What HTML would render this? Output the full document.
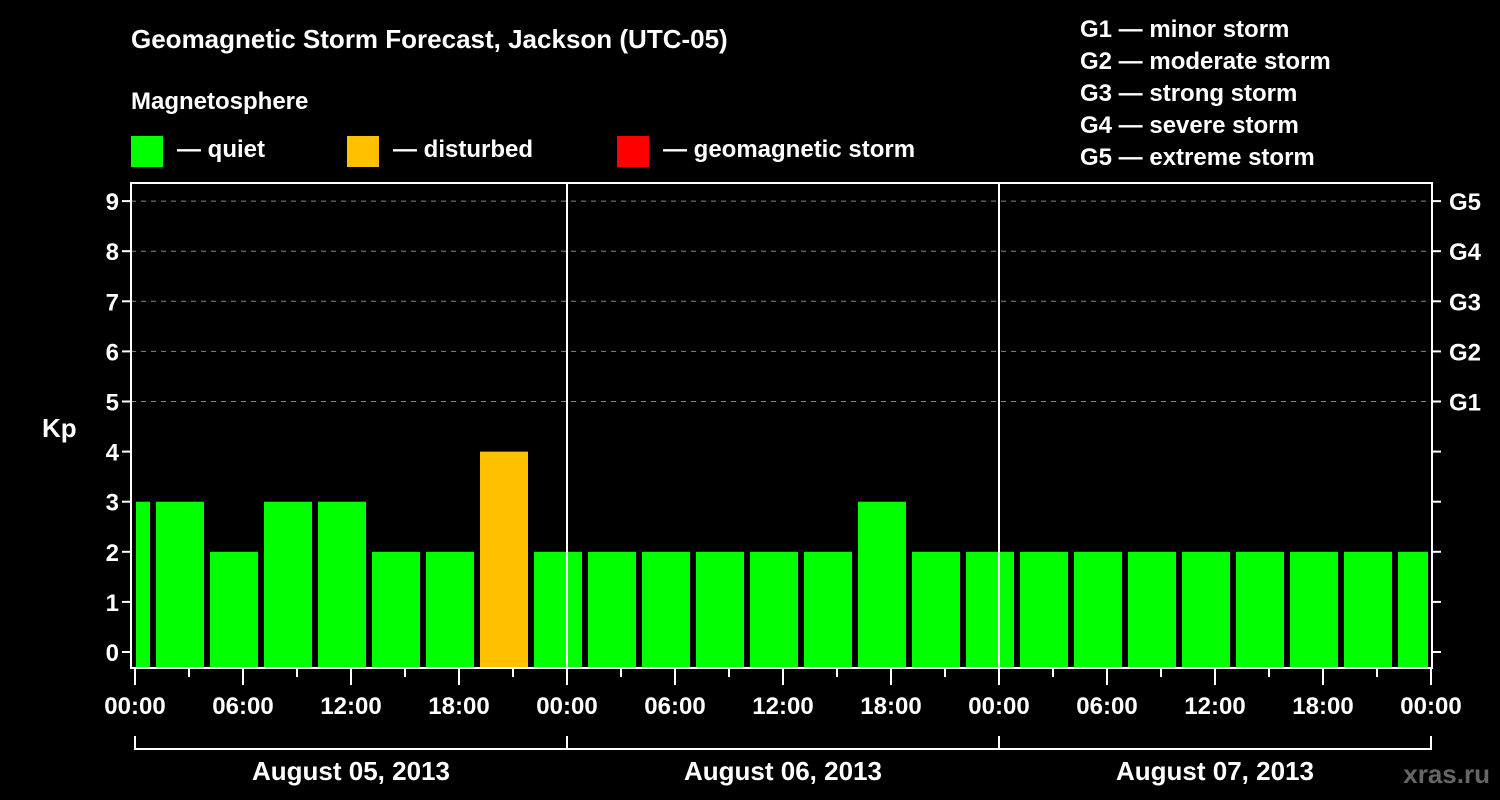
<!DOCTYPE html>
<html><head><meta charset="utf-8"><style>
body{margin:0;background:#000;}
svg{display:block;font-family:"Liberation Sans",Arial,sans-serif;font-weight:bold;}
</style></head><body>
<svg width="1500" height="800" viewBox="0 0 1500 800">
<rect width="1500" height="800" fill="#000"/>
<text x="131" y="48" fill="#fff" font-size="26">Geomagnetic Storm Forecast, Jackson (UTC-05)</text>
<text x="131" y="109" fill="#fff" font-size="24">Magnetosphere</text>
<g><rect x="131" y="136" width="32" height="31" fill="#00ff00"/><text x="177" y="157" fill="#fff" font-size="24">— quiet</text></g>
<g><rect x="347" y="136" width="32" height="31" fill="#ffc000"/><text x="393" y="157" fill="#fff" font-size="24">— disturbed</text></g>
<g><rect x="617" y="136" width="32" height="31" fill="#ff0000"/><text x="663" y="157" fill="#fff" font-size="24">— geomagnetic storm</text></g>
<g fill="#fff" font-size="24">
<text x="1080" y="37">G1 — minor storm</text>
<text x="1080" y="69">G2 — moderate storm</text>
<text x="1080" y="101">G3 — strong storm</text>
<text x="1080" y="133">G4 — severe storm</text>
<text x="1080" y="165">G5 — extreme storm</text>
</g>
<text x="42" y="437" fill="#fff" font-size="26">Kp</text>
<text x="1490" y="783" fill="#666" font-size="26" text-anchor="end">xras.ru</text>
<g id="plot"></g>
</svg>
<script>
const kpValues=[3,3,2,3,3,2,2,4,2,2,2,2,2,2,3,2,2,2,2,2,2,2,2,2,2];
const timeLabels=["00:00","06:00","12:00","18:00","00:00","06:00","12:00","18:00","00:00","06:00","12:00","18:00","00:00"];
const dayLabels=["August 05, 2013","August 06, 2013","August 07, 2013"];
const gLabels=["G1","G2","G3","G4","G5"];
const kpTicks=[0,1,2,3,4,5,6,7,8,9];
const NS="http://www.w3.org/2000/svg";
const g=document.getElementById('plot');
const X0=135,PXH=18,Y0=652,PXK=50.1,L=131,R=1432,T=183,B=668;
const xh=h=>X0+h*PXH, yk=k=>Y0-k*PXK;
function mk(t,a,p){const e=document.createElementNS(NS,t);for(const k in a)e.setAttribute(k,a[k]);(p||g).appendChild(e);return e;}
// grid
kpTicks.forEach(k=>{
 if(k>=5){const l=mk('line',{x1:L,x2:R,y1:yk(k),y2:yk(k),stroke:'#888','stroke-dasharray':'5,5','stroke-width':1});
 
 }
 const t=mk('line',{x1:L-9,x2:L,y1:yk(k),y2:yk(k),stroke:'#fff','stroke-width':2});
 
 
 const t2=mk('line',{x1:R,x2:R+9,y1:yk(k),y2:yk(k),stroke:'#fff','stroke-width':2});
 
 
 const lab=mk('text',{x:L-12,y:yk(k)+9,fill:'#fff','font-size':24,'text-anchor':'end'});
 lab.textContent=k;
 
 
});
gLabels.forEach((s,i)=>{
 const lab=mk('text',{x:R+17,y:yk(i+5)+9,fill:'#fff','font-size':24});
 lab.textContent=s;
 
 
});
// bars
kpValues.forEach((v,i)=>{
 let x1=xh(-2+3*i)+3, x2=x1+48;
 x1=Math.max(x1,X0+1); x2=Math.min(x2,R-4);
 const c=v>=5?'#ff0000':(v>=4?'#ffc000':'#00ff00');
 const r=mk('rect',{x:x1,y:yk(v),width:x2-x1,height:B-yk(v),fill:c});
 
 
});
// day separators
[1,2].forEach(d=>{const l=mk('line',{x1:xh(24*d),x2:xh(24*d),y1:T,y2:B,stroke:'#fff','stroke-width':2});
 
 });
// frame
const f=mk('rect',{x:L,y:T,width:R-L,height:B-T,fill:'none',stroke:'#fff','stroke-width':2});


// x ticks
for(let h=0;h<=72;h+=3){
 const l=mk('line',{x1:xh(h),x2:xh(h),y1:B,y2:B+(h%6==0?17:9),stroke:'#fff','stroke-width':2});
 
 
}
timeLabels.forEach((s,i)=>{
 const t=mk('text',{x:xh(i*6),y:714,fill:'#fff','font-size':24,'text-anchor':'middle'});
 t.textContent=s;
 
 
});
// day brackets
const br=mk('path',{d:`M${xh(0)},736V749H${xh(72)}V736`,fill:'none',stroke:'#fff','stroke-width':2});


[1,2].forEach(d=>{const l=mk('line',{x1:xh(24*d),x2:xh(24*d),y1:736,y2:749,stroke:'#fff','stroke-width':2});
 
 });
dayLabels.forEach((s,i)=>{
 const t=mk('text',{x:xh(24*i+12),y:780,fill:'#fff','font-size':26,'text-anchor':'middle'});
 t.textContent=s;
 
 
});
</script>
</body></html>
